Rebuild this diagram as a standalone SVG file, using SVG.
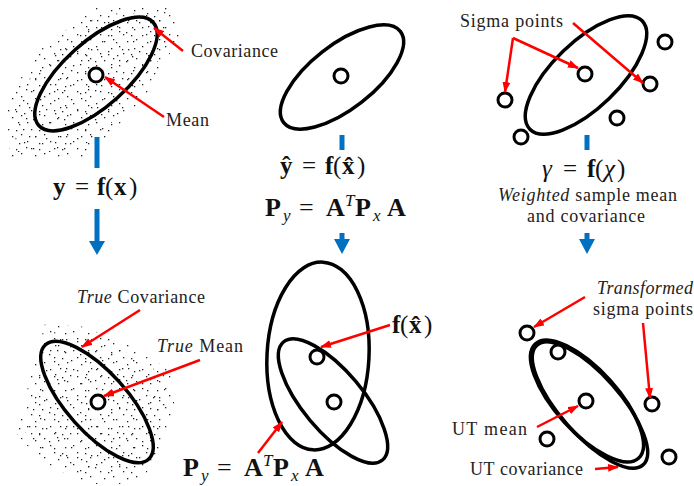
<svg xmlns="http://www.w3.org/2000/svg" width="694" height="486" viewBox="0 0 694 486">
<style>
.el{fill:none;stroke:#000;stroke-width:3.5}
.pt{fill:#fff;stroke:#000;stroke-width:3}
.ra{fill:none;stroke:#ff0000;stroke-width:2.5;marker-end:url(#ar)}
.bl{stroke:#0070c0;stroke-width:5;fill:none}
.bh{fill:#0070c0}
.lb{font-family:"Liberation Serif","DejaVu Serif",serif;font-size:18px;fill:#222}
.m{font-family:"Liberation Serif","DejaVu Serif",serif;font-size:25px;fill:#111}
.b{font-weight:bold}
.i{font-style:italic}
.s{font-size:17px;font-style:italic}
</style>
<defs>
<marker id="ar" markerWidth="11" markerHeight="8" refX="10" refY="4" orient="auto" markerUnits="userSpaceOnUse"><path d="M0,0 L11,4 L0,8 z" fill="#ff0000"/></marker>
<pattern id="d1" width="31" height="29" patternUnits="userSpaceOnUse">
<g fill="#222"><rect x="2" y="3" width="1.3" height="1.3"/><rect x="18" y="6" width="1.3" height="1.3"/><rect x="26" y="2" width="1.3" height="1.3"/><rect x="9" y="12" width="1.3" height="1.3"/><rect x="23" y="13" width="1.3" height="1.3"/><rect x="29" y="20" width="1.3" height="1.3"/><rect x="4" y="20" width="1.3" height="1.3"/><rect x="15" y="22" width="1.3" height="1.3"/><rect x="24" y="26" width="1.3" height="1.3"/><rect x="8" y="27" width="1.3" height="1.3"/></g>
</pattern>
<pattern id="d2" width="23" height="19" patternUnits="userSpaceOnUse">
<g fill="#222"><rect x="4" y="8" width="1.3" height="1.3"/><rect x="12" y="3" width="1.3" height="1.3"/><rect x="19" y="10" width="1.3" height="1.3"/><rect x="8" y="15" width="1.3" height="1.3"/><rect x="16" y="16" width="1.3" height="1.3"/><rect x="21" y="1" width="1.3" height="1.3"/></g>
</pattern>
</defs>
<rect width="694" height="486" fill="#fff"/>

<!-- Top-left: sampled distribution -->
<g id="cloud-top">
<path d="M97,6 L173,5 L180,35 L150,90 L110,135 L80,160 L10,160 L6,100 L40,50 Z" fill="url(#d2)"/>
<path d="M100,14 L168,12 L172,35 L143,88 L105,130 L75,152 L16,152 L14,103 L45,55 Z" fill="url(#d1)"/>
</g>
<g id="cov-top"><ellipse class="el" cx="96" cy="74" rx="77" ry="32" transform="rotate(-42 96 74)"/></g>
<g id="mean-top"><circle class="pt" cx="96" cy="75" r="7"/></g>
<g id="lbl-cov"><text class="lb" x="191" y="57" textLength="87">Covariance</text></g>
<g id="lbl-mean"><text class="lb" x="166" y="126" textLength="43">Mean</text></g>
<g id="eq-left"><text class="m"><tspan class="b" x="53" y="195">y</tspan><tspan x="75" y="195">=</tspan><tspan class="b" x="97" y="195">f</tspan><tspan x="105" y="195">(</tspan><tspan class="b" x="114" y="195">x</tspan><tspan x="129" y="195">)</tspan></text></g>

<!-- Top-middle: linearization -->
<g id="cov-mid"><ellipse class="el" cx="342" cy="77" rx="74" ry="32" transform="rotate(-38 342 77)"/></g>
<g id="mean-mid"><circle class="pt" cx="341" cy="76" r="7"/></g>
<g id="eq-mid">
<text class="m"><tspan class="b" x="280" y="174">ŷ</tspan><tspan x="302" y="174">=</tspan><tspan class="b" x="325" y="174">f</tspan><tspan x="333" y="174">(</tspan><tspan class="b" x="342" y="174">x̂</tspan><tspan x="357" y="174">)</tspan></text>
<text class="m" style="font-size:26px"><tspan class="b" x="265" y="216">P</tspan><tspan class="s" x="283" y="221">y</tspan><tspan x="299" y="216">=</tspan><tspan class="b" x="326" y="216">A</tspan><tspan class="s" x="345" y="206">T</tspan><tspan class="b" x="355" y="216">P</tspan><tspan class="s" x="373" y="221">x</tspan><tspan class="b" x="387" y="216">A</tspan></text>
</g>

<!-- Top-right: sigma points -->
<g id="cov-right"><ellipse class="el" cx="586" cy="75" rx="78" ry="33" transform="rotate(-44 586 75)"/></g>
<g id="sigma-pts">
<circle class="pt" cx="585" cy="74" r="7"/><circle class="pt" cx="650" cy="84" r="7"/><circle class="pt" cx="665" cy="42" r="7"/>
<circle class="pt" cx="505" cy="100" r="7"/><circle class="pt" cx="617" cy="118" r="7"/><circle class="pt" cx="521" cy="137" r="7"/>
</g>
<g id="lbl-sigma"><text class="lb" x="460" y="27" textLength="103">Sigma points</text></g>
<g id="eq-right">
<text class="m"><tspan class="i" x="542" y="177">γ</tspan><tspan x="563" y="177">=</tspan><tspan class="b" x="587" y="177">f</tspan><tspan x="595" y="177">(</tspan><tspan class="i" x="604" y="177">χ</tspan><tspan x="617" y="177">)</tspan></text>
<text class="lb" x="498" y="201" textLength="179"><tspan class="i">Weighted</tspan> sample mean</text>
<text class="lb" x="527" y="222" textLength="118">and covariance</text>
</g>

<!-- Bottom-left: true result -->
<g id="cloud-bottom">
<path d="M45,324 L80,326 L125,342 L170,370 L175,410 L160,450 L140,484 L85,484 L40,460 L15,432 L30,380 Z" fill="url(#d2)"/>
<path d="M50,332 L80,334 L122,350 L164,375 L167,410 L153,447 L135,476 L88,476 L45,454 L23,430 L37,383 Z" fill="url(#d1)"/>
</g>
<g id="cov-true"><ellipse class="el" cx="97" cy="402" rx="77" ry="30" transform="rotate(48 97 402)"/></g>
<g id="mean-true"><circle class="pt" cx="98" cy="402" r="7"/></g>
<g id="lbl-truecov"><text class="lb" x="77" y="303" textLength="128"><tspan class="i">True</tspan> Covariance</text></g>
<g id="lbl-truemean"><text class="lb" x="157" y="352" textLength="86"><tspan class="i">True</tspan> Mean</text></g>

<!-- Bottom-middle: linearized result -->
<g id="cov-lin"><ellipse class="el" cx="318" cy="356" rx="51" ry="94" transform="rotate(3 318 356)"/></g>
<g id="cov-true-mid"><ellipse class="el" cx="333" cy="401" rx="77" ry="30" transform="rotate(50 333 401)"/></g>
<g id="pts-mid"><circle class="pt" cx="317" cy="357" r="7"/><circle class="pt" cx="334" cy="402" r="7"/></g>
<g id="lbl-fx">
<text class="m"><tspan class="b" x="392" y="333">f</tspan><tspan x="400" y="333">(</tspan><tspan class="b" x="409" y="333">x̂</tspan><tspan x="424" y="333">)</tspan></text>
</g>
<g id="lbl-py"><text class="m" style="font-size:26px"><tspan class="b" x="183" y="476">P</tspan><tspan class="s" x="201" y="481">y</tspan><tspan x="217" y="476">=</tspan><tspan class="b" x="244" y="476">A</tspan><tspan class="s" x="263" y="466">T</tspan><tspan class="b" x="273" y="476">P</tspan><tspan class="s" x="291" y="481">x</tspan><tspan class="b" x="305" y="476">A</tspan></text></g>

<!-- Bottom-right: UT result -->
<g id="cov-ut"><ellipse class="el" cx="587" cy="401" rx="77" ry="31" transform="rotate(48 587 401)"/><ellipse class="el" cx="590" cy="405" rx="80" ry="30" transform="rotate(48.5 590 405)"/></g>
<g id="pts-ut">
<circle class="pt" cx="527" cy="333" r="7"/><circle class="pt" cx="558" cy="352" r="7"/><circle class="pt" cx="586" cy="401" r="7"/>
<circle class="pt" cx="652" cy="404" r="7"/><circle class="pt" cx="547" cy="439" r="7"/><circle class="pt" cx="669" cy="457" r="7"/>
</g>
<g id="lbl-trans"><text class="lb" x="597" y="294" textLength="96"><tspan class="i">Transformed</tspan></text><text class="lb" x="593" y="315" textLength="100">sigma points</text></g>
<g id="lbl-utmean"><text class="lb" x="452" y="435" textLength="75">UT mean</text></g>
<g id="lbl-utcov"><text class="lb" x="470" y="475" textLength="113">UT covariance</text></g>

<!-- Connectors -->
<g id="connectors">
<path class="ra" d="M183,51 L154,28"/>
<path class="ra" d="M164,117 L105,77"/>
<path class="ra" d="M513,38 L505,92"/>
<path class="ra" d="M513,38 L578,68"/>
<path class="ra" d="M573,23 L643,83"/>
<path class="ra" d="M140,310 L82,347"/>
<path class="ra" d="M200,360 L104,396"/>
<path class="ra" d="M390,325 L321,347"/>
<path class="ra" d="M258,453 L282,422"/>
<path class="ra" d="M585,297 L534,327"/>
<path class="ra" d="M643,323 L650,398"/>
<path class="ra" d="M537,427 L578,406"/>
<path class="ra" d="M595,469 L618,467"/>
<line class="bl" x1="97" y1="137" x2="97" y2="168"/>
<line class="bl" x1="97" y1="209" x2="97" y2="243"/>
<path class="bh" d="M89,241 L105,241 L97,255 Z"/>
<line class="bl" x1="342" y1="135" x2="342" y2="150"/>
<line class="bl" x1="342" y1="233" x2="342" y2="241"/>
<path class="bh" d="M334,239 L350,239 L342,254 Z"/>
<line class="bl" x1="587" y1="135" x2="587" y2="150"/>
<line class="bl" x1="587" y1="233" x2="587" y2="241"/>
<path class="bh" d="M579,239 L595,239 L587,254 Z"/>
</g>
</svg>
